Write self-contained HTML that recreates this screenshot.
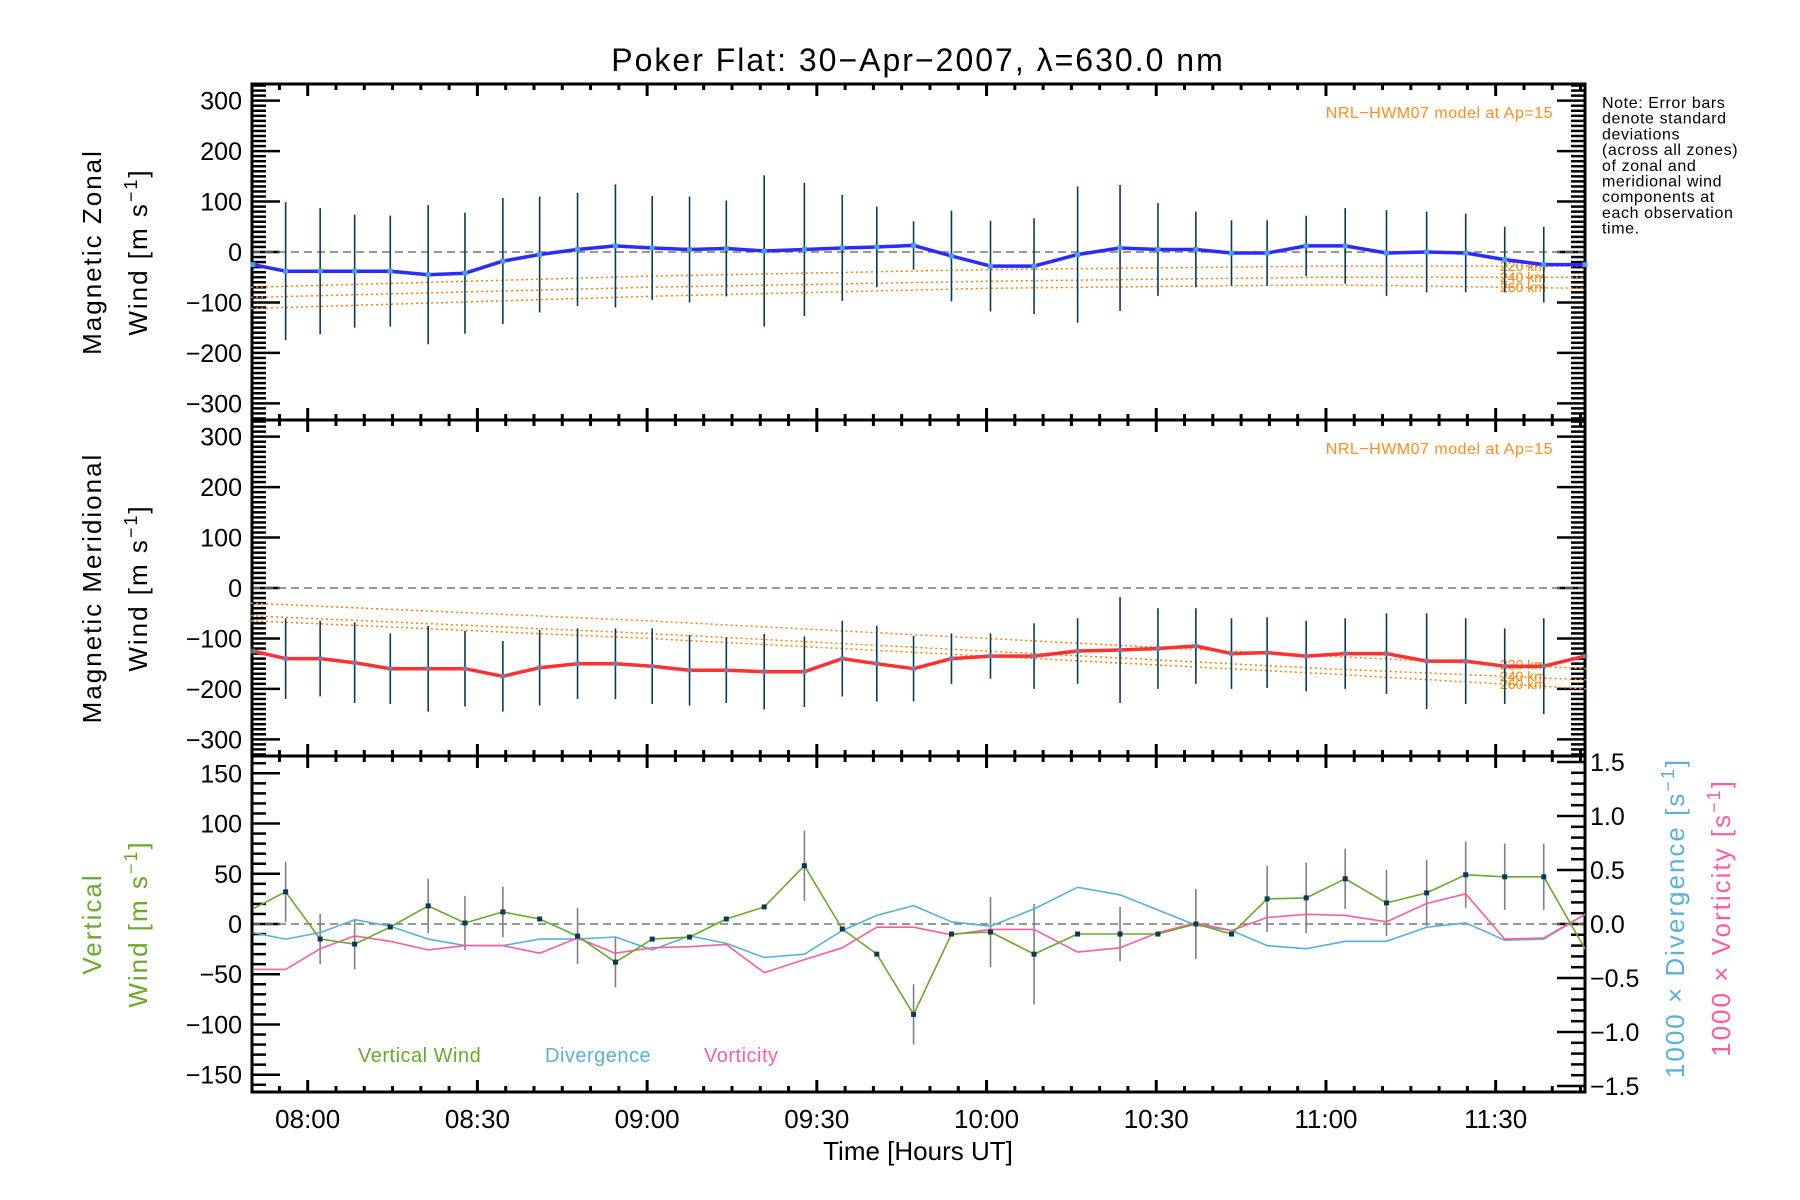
<!DOCTYPE html>
<html><head><meta charset="utf-8"><style>
html,body{margin:0;padding:0;background:#fff;}
svg{display:block;font-family:"Liberation Sans",sans-serif;}
</style></head><body>
<svg id="chart" width="1800" height="1200" viewBox="0 0 1800 1200" xmlns="http://www.w3.org/2000/svg"></svg>
<script>
// ---- data ----
const times = [-9.7,-3.9,2.2,8.3,14.6,21.3,27.8,34.5,41,47.7,54.4,60.9,67.5,74,80.7,87.8,94.5,100.6,107.1,113.8,120.7,128.4,136.1,143.6,150.3,157,163.3,169.6,176.5,183.4,190.7,197.8,204.7,211.6,218.5,225.8];
const zonal = [-25,-38,-38,-38,-38,-45,-42,-18,-5,5,12,8,5,7,2,5,8,10,13,-8,-28,-28,-5,8,5,5,-2,-2,12,12,-2,0,-2,-15,-25,-25];
const zonalErr = [0,137,125,112,110,138,120,125,115,112,122,103,105,95,150,132,105,80,48,90,90,95,135,125,92,75,65,65,60,75,85,80,78,65,75,0];
const merid = [-125,-140,-140,-148,-160,-160,-160,-175,-158,-150,-150,-155,-163,-163,-166,-166,-140,-150,-160,-140,-135,-135,-125,-123,-120,-115,-130,-128,-135,-130,-130,-145,-145,-155,-155,-135];
const meridErr = [0,80,75,80,70,85,75,70,75,70,70,75,70,65,75,70,75,75,65,50,45,65,65,105,80,75,70,70,70,70,80,95,85,75,95,0];
const vert = [15,32,-15,-20,-3,18,1,12,5,-12,-38,-15,-13,5,17,58,-5,-30,-90,-10,-8,-30,-10,-10,-10,0,-10,25,26,45,21,31,49,47,47,-25];
const vertErr = [0,30,25,25,0,27,27,25,0,28,25,0,0,0,0,35,0,0,30,0,35,50,0,27,0,35,0,33,35,30,33,33,33,33,33,0];
const divg = [-0.08,-0.14,-0.08,0.04,-0.02,-0.14,-0.2,-0.2,-0.14,-0.14,-0.12,-0.24,-0.11,-0.18,-0.31,-0.28,-0.06,0.08,0.17,0.02,-0.02,0.14,0.34,0.27,0.13,-0.01,-0.06,-0.2,-0.23,-0.16,-0.16,-0.03,0.01,-0.15,-0.14,0.09];
const vort = [-0.42,-0.42,-0.23,-0.11,-0.16,-0.24,-0.2,-0.2,-0.27,-0.13,-0.27,-0.22,-0.21,-0.19,-0.45,-0.33,-0.22,-0.03,-0.03,-0.1,-0.05,-0.05,-0.26,-0.22,-0.08,0.01,-0.06,0.06,0.09,0.08,0.02,0.19,0.28,-0.14,-0.13,0.09];
const modelT = [-10,60,120,180,226];
const mZ220 = [-70,-48,-35,-28,-28];
const mZ240 = [-90,-70,-58,-50,-50];
const mZ260 = [-112,-88,-72,-65,-72];
const mM220 = [-30,-65,-100,-135,-160];
const mM240 = [-55,-90,-125,-160,-182];
const mM260 = [-65,-100,-135,-170,-200];
const windTicks = [-300,-200,-100,0,100,200,300];
const vertTicks = [-150,-100,-50,0,50,100,150];
const rightTicks = [-1.5,-1.0,-0.5,0.0,0.5,1.0,1.5];
const xTickLabels = ["08:00","08:30","09:00","09:30","10:00","10:30","11:00","11:30"];

// ---- axes ----
const L=252,R=1585;
const P=[{top:84,bot:420},{top:420,bot:756},{top:756,bot:1092}];
const X=t=>307.7+t*5.657;
const Yw=(p,v)=>(P[p].top+P[p].bot)/2 - v*0.5044;
const Yv=v=>924 - v*1.0047;
const Yr=v=>924 - v*108;
const svg=document.getElementById('chart');
const NS='http://www.w3.org/2000/svg';
function mk(tag,attrs,parent){const e=document.createElementNS(NS,tag);for(const k in attrs)e.setAttribute(k,attrs[k]);(parent||svg).appendChild(e);return e;}
function txt(s,attrs,parent){const e=mk('text',attrs,parent);e.textContent=s;return e;}
function poly(xs,ys){return xs.map((x,i)=>x.toFixed(1)+','+ys[i].toFixed(1)).join(' ');}
function interp(tArr,vArr,t){for(let i=0;i<tArr.length-1;i++){if(t<=tArr[i+1]){const f=(t-tArr[i])/(tArr[i+1]-tArr[i]);return vArr[i]+f*(vArr[i+1]-vArr[i]);}}return vArr[vArr.length-1];}

const title=txt('Poker Flat: 30\u2212Apr\u22122007, \u03bb=630.0 nm',{x:918,y:71,'text-anchor':'middle','font-size':32,'letter-spacing':'2'});



for(let p=0;p<3;p++){
  const g=mk('g',{});
  
  
  for(let m=-10;m<=230;m+=5){const x=X(m);if(x<L||x>R)continue;const len=(m%30===0)?12:6;
    mk('line',{x1:x,y1:P[p].bot,x2:x,y2:P[p].bot-len,stroke:'#000','stroke-width':3},g);
    mk('line',{x1:x,y1:P[p].top,x2:x,y2:P[p].top+len,stroke:'#000','stroke-width':3},g);}
  if(p<2){
    for(let v=-330;v<=330;v+=10){const y=Yw(p,v);if(y<P[p].top||y>P[p].bot)continue;const len=(v%100===0)?28:14;
      mk('line',{x1:L,y1:y,x2:L+len,y2:y,stroke:'#000','stroke-width':2.5},g);
      mk('line',{x1:R,y1:y,x2:R-len,y2:y,stroke:'#000','stroke-width':2.5},g);}
    windTicks.forEach(v=>{txt(String(v).replace('-','\u2212'),{x:242,y:Yw(p,v)+9,'text-anchor':'end','font-size':25},g);});
    mk('line',{x1:L,y1:Yw(p,0),x2:R,y2:Yw(p,0),stroke:'#777','stroke-width':1.5,'stroke-dasharray':'8,5'},g);
  } else {
    for(let v=-160;v<=160;v+=10){const y=Yv(v);const len=(v%50===0)?28:14;
      mk('line',{x1:L,y1:y,x2:L+len,y2:y,stroke:'#000','stroke-width':2.5},g);}
    for(let v=-1.5;v<=1.51;v+=0.1){const y=Yr(v);const major=Math.abs(Math.round(v*10)%5)===0;
      mk('line',{x1:R,y1:y,x2:R-(major?28:14),y2:y,stroke:'#000','stroke-width':2.5},g);}
    vertTicks.forEach(v=>{txt(String(v).replace('-','\u2212'),{x:242,y:Yv(v)+9,'text-anchor':'end','font-size':25},g);});
    rightTicks.forEach(v=>{txt(v.toFixed(1).replace('-','\u2212'),{x:1590,y:Yr(v)+9,'text-anchor':'start','font-size':25},g);});
    mk('line',{x1:L,y1:Yv(0),x2:R,y2:Yv(0),stroke:'#777','stroke-width':1.5,'stroke-dasharray':'8,5'},g);
  }
  mk('rect',{x:L,y:P[p].top,width:R-L,height:P[p].bot-P[p].top,fill:'none',stroke:'#000','stroke-width':3},g);
}
xTickLabels.forEach((s,i)=>{const e=txt(s,{x:X(i*30),y:1128,'text-anchor':'middle','font-size':26});

});
const xt=txt('Time [Hours UT]',{x:918,y:1160,'text-anchor':'middle','font-size':26});



function ytitle(lines,x,y,color,name){const e=txt(lines,{x:0,y:0,transform:`translate(${x},${y}) rotate(-90)`,'text-anchor':'middle','font-size':26,fill:color,'letter-spacing':'2'});

return e;}
ytitle('Magnetic Zonal',101,252,'#000','zonal-y-title');
const w1=ytitle('Wind [m s',147,252,'#000','zonal-y-title-units');
function sup(e){const t=document.createElementNS(NS,'tspan');t.setAttribute('dy','-10');t.setAttribute('font-size','18');t.textContent='\u22121';e.appendChild(t);const t2=document.createElementNS(NS,'tspan');t2.setAttribute('dy','10');t2.textContent=']';e.appendChild(t2);}
sup(w1);
ytitle('Magnetic Meridional',101,588,'#000','meridional-y-title');
sup(ytitle('Wind [m s',147,588,'#000','meridional-y-title-units'));
ytitle('Vertical',101,924,'#6aaa2a','vertical-y-title');
sup(ytitle('Wind [m s',147,924,'#6aaa2a','vertical-y-title-units'));
sup(ytitle('1000 \u00d7 Divergence [s',1684,918,'#5ab0dc','divergence-y-title'));
sup(ytitle('1000 \u00d7 Vorticity [s',1730,918,'#ff5c9a','vorticity-y-title'));

const noteLines=['Note: Error bars','denote standard','deviations','(across all zones)','of zonal and','meridional wind','components at','each observation','time.'];
const note=mk('g',{});


noteLines.forEach((s,i)=>txt(s,{x:1602,y:108+i*15.7,'font-size':16,'letter-spacing':'0.6'},note));

[0,1].forEach(p=>{const e=txt('NRL\u2212HWM07 model at Ap=15',{x:1553,y:P[p].top+34,'text-anchor':'end','font-size':16,fill:'#ff8c1a','letter-spacing':'0.5'});

});

function modelLine(p,arr,name,lab){const xs=[],ys=[];for(let t=-10;t<=226;t+=2){xs.push(X(t));ys.push(Yw(p,interp(modelT,arr,t)));}
const e=mk('polyline',{points:poly(xs,ys),fill:'none',stroke:'#ff8000','stroke-width':1.5,'stroke-dasharray':'2,3'});


const l=txt(lab,{x:1500,y:Yw(p,interp(modelT,arr,211))+5,'font-size':14,fill:'#ff8000'});

}
modelLine(0,mZ220,'zonal-model-220km','220 km');modelLine(0,mZ240,'zonal-model-240km','240 km');modelLine(0,mZ260,'zonal-model-260km','260 km');
modelLine(1,mM220,'meridional-model-220km','220 km');modelLine(1,mM240,'meridional-model-240km','240 km');modelLine(1,mM260,'meridional-model-260km','260 km');

function errBars(vals,errs,yf,color,name){const g=mk('g',{});


times.forEach((t,i)=>{if(!errs[i])return;const x=X(t);mk('line',{x1:x,y1:yf(vals[i]+errs[i]),x2:x,y2:yf(vals[i]-errs[i]),stroke:color,'stroke-width':1.6},g);});}
errBars(zonal,zonalErr,v=>Yw(0,v),'#0a3a5a','zonal-error-bars');
errBars(merid,meridErr,v=>Yw(1,v),'#0a3a5a','meridional-error-bars');
errBars(vert,vertErr,Yv,'#808080','vertical-error-bars');
function series(vals,yf,color,w,name){const xs=times.map(X),ys=vals.map(yf);
const e=mk('polyline',{points:poly(xs,ys),fill:'none',stroke:color,'stroke-width':w,'stroke-linejoin':'round'});

}
series(zonal,v=>Yw(0,v),'#2b2bff',3.5,'zonal-wind-line');
series(merid,v=>Yw(1,v),'#ff3030',3.5,'meridional-wind-line');
series(divg,Yr,'#5ab0dc',1.6,'divergence-line');
series(vort,Yr,'#ff5c9a',1.6,'vorticity-line');
series(vert,Yv,'#6aaa2a',1.6,'vertical-wind-line');
const pts=mk('g',{});


times.forEach((t,i)=>{if(i===0||i===times.length-1)return;mk('rect',{x:X(t)-2.5,y:Yv(vert[i])-2.5,width:5,height:5,fill:'#0a3a5a'},pts);});
const zp=mk('g',{});


times.forEach((t,i)=>{mk('rect',{x:X(t)-2.5,y:Yw(0,zonal[i])-2.5,width:5,height:5,fill:'#4aa0d8'},zp);mk('rect',{x:X(t)-2.5,y:Yw(1,merid[i])-2.5,width:5,height:5,fill:'#4aa0d8',opacity:0.6},zp);});

[['Vertical Wind',358,'#6aaa2a','legend-vertical-wind'],['Divergence',545,'#5ab0dc','legend-divergence'],['Vorticity',704,'#ff5c9a','legend-vorticity']].forEach(a=>{
const e=txt(a[0],{x:a[1],y:1062,'font-size':20,fill:a[2],'letter-spacing':'0.5'});

});
</script>
</body></html>
